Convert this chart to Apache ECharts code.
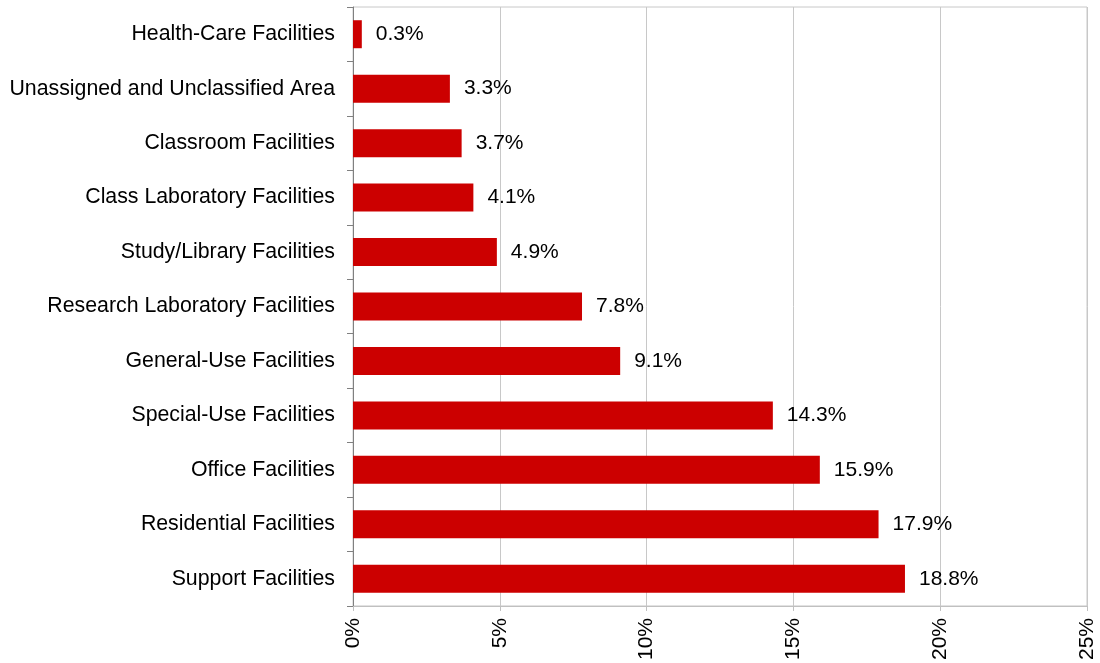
<!DOCTYPE html>
<html>
<head>
<meta charset="utf-8">
<script src="https://cdn.jsdelivr.net/npm/echarts@6/dist/echarts.min.js"></script>
<style>
html,body{margin:0;padding:0;background:#fff;}
#chart{width:1100px;height:663px;}
</style>
</head>
<body>
<div id="chart"></div>
<script>
const categories = [
  "Health-Care Facilities",
  "Unassigned and Unclassified Area",
  "Classroom Facilities",
  "Class Laboratory Facilities",
  "Study/Library Facilities",
  "Research Laboratory Facilities",
  "General-Use Facilities",
  "Special-Use Facilities",
  "Office Facilities",
  "Residential Facilities",
  "Support Facilities"
];
const values = [0.3, 3.3, 3.7, 4.1, 4.9, 7.8, 9.1, 14.3, 15.9, 17.9, 18.8];
const xTicks = [0, 5, 10, 15, 20, 25];

const FONT = "Liberation Sans, Arial, sans-serif";
const chart = echarts.init(document.getElementById('chart'), null, {renderer: 'canvas'});
chart.setOption({
  animation: false,
  backgroundColor: '#ffffff',
  grid: {
    left: 353, right: 13, top: 7, bottom: 55,
    show: true, borderColor: '#c8c8c8', borderWidth: 1, backgroundColor: 'transparent'
  },
  xAxis: {
    type: 'value',
    min: xTicks[0],
    max: xTicks[xTicks.length - 1],
    interval: xTicks[1] - xTicks[0],
    axisLine: {show: true, lineStyle: {color: '#c0c0c0', width: 1}},
    axisTick: {show: true, length: 5, lineStyle: {color: '#c0c0c0'}},
    splitLine: {show: true, lineStyle: {color: '#c8c8c8', width: 1}},
    axisLabel: {
      rotate: 90,
      margin: 12,
      color: '#000',
      fontSize: 21,
      fontFamily: FONT,
      formatter: v => v + '%'
    }
  },
  yAxis: {
    type: 'category',
    data: categories,
    inverse: true,
    axisLine: {show: true, lineStyle: {color: '#808080', width: 1}},
    axisTick: {show: true, length: 6, lineStyle: {color: '#808080'}},
    axisLabel: {
      margin: 18,
      color: '#000',
      fontSize: 21.3,
      fontFamily: FONT
    },
    splitLine: {show: false}
  },
  series: [{
    type: 'bar',
    data: values,
    barWidth: 28,
    itemStyle: {color: '#cc0000'},
    label: {
      show: true,
      position: 'right',
      distance: 14,
      color: '#000',
      fontSize: 21,
      fontFamily: FONT,
      formatter: p => p.value.toFixed(1) + '%'
    }
  }]
});
</script>
</body>
</html>
